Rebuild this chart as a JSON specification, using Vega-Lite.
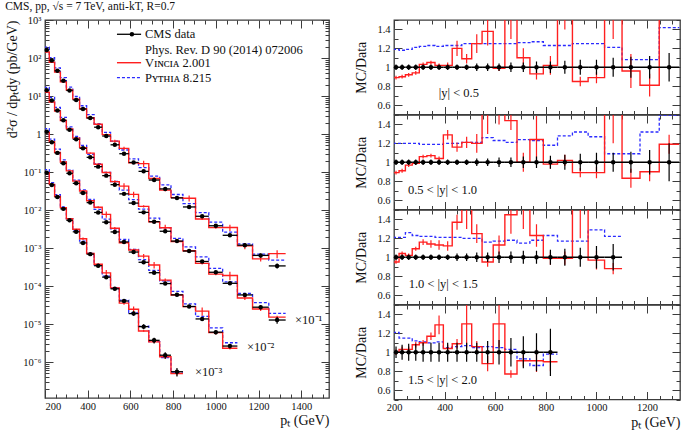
{
  "$schema": "https://vega.github.io/schema/vega-lite/v6.json",
  "padding": {"left": 5, "top": 0, "right": 0, "bottom": 0},
  "background": "white",
  "title": {"text": "CMS, pp, √s = 7 TeV, anti-kT, R=0.7", "anchor": "start", "fontSize": 11.5, "fontWeight": "normal", "font": "Liberation Serif", "color": "#111", "offset": -3},
  "config": {
    "font": "Liberation Serif",
    "view": {"stroke": "#3c3c3c", "strokeWidth": 1.3},
    "axis": {"domain": false, "grid": false, "tickColor": "#3c3c3c", "tickWidth": 1, "labelFont": "Liberation Serif", "labelFontSize": 10.5, "labelColor": "#111", "titleFont": "Liberation Serif", "titleFontWeight": "normal", "titleColor": "#111", "labelOverlap": false, "labelFlush": false},
    "text": {"font": "Liberation Serif"}
  },
  "datasets": {
    "bins": [
      {"s":1,"lo":196,"hi":220,"c":208,"dat":162,"dE":4.86,"vin":144.2,"vE":3.24,"pyt":192.8,"rd":1,"de":0.03,"rv":0.89,"ve":0.02,"rp":1.19},
      {"s":1,"lo":220,"hi":245,"c":232,"dat":86.2,"dE":2.59,"vin":77.6,"vE":1.72,"pyt":101.7,"rd":1,"de":0.03,"rv":0.90,"ve":0.02,"rp":1.18},
      {"s":1,"lo":245,"hi":272,"c":258,"dat":46.3,"dE":1.39,"vin":42.6,"vE":0.93,"pyt":55.1,"rd":1,"de":0.03,"rv":0.92,"ve":0.02,"rp":1.19},
      {"s":1,"lo":272,"hi":300,"c":286,"dat":25.1,"dE":0.75,"vin":23.6,"vE":0.50,"pyt":30.4,"rd":1,"de":0.03,"rv":0.94,"ve":0.02,"rp":1.21},
      {"s":1,"lo":300,"hi":330,"c":315,"dat":14.0,"dE":0.42,"vin":14.4,"vE":0.28,"pyt":17.1,"rd":1,"de":0.03,"rv":1.03,"ve":0.02,"rp":1.22},
      {"s":1,"lo":330,"hi":362,"c":346,"dat":7.88,"dE":0.236,"vin":8.27,"vE":0.158,"pyt":9.69,"rd":1,"de":0.03,"rv":1.05,"ve":0.02,"rp":1.23},
      {"s":1,"lo":362,"hi":395,"c":378,"dat":4.54,"dE":0.136,"vin":4.63,"vE":0.091,"pyt":5.54,"rd":1,"de":0.03,"rv":1.02,"ve":0.02,"rp":1.22},
      {"s":1,"lo":395,"hi":430,"c":412,"dat":2.63,"dE":0.079,"vin":2.68,"vE":0.079,"pyt":3.23,"rd":1,"de":0.03,"rv":1.02,"ve":0.03,"rp":1.23},
      {"s":1,"lo":430,"hi":468,"c":449,"dat":1.51,"dE":0.045,"vin":1.81,"vE":0.121,"pyt":1.86,"rd":1,"de":0.03,"rv":1.2,"ve":0.08,"rp":1.23},
      {"s":1,"lo":468,"hi":507,"c":487,"dat":0.885,"dE":0.027,"vin":0.965,"vE":0.044,"pyt":1.106,"rd":1,"de":0.03,"rv":1.09,"ve":0.05,"rp":1.25},
      {"s":1,"lo":507,"hi":548,"c":527,"dat":0.520,"dE":0.021,"vin":0.650,"vE":0.052,"pyt":0.650,"rd":1,"de":0.04,"rv":1.25,"ve":0.1,"rp":1.25},
      {"s":1,"lo":548,"hi":592,"c":570,"dat":0.303,"dE":0.012,"vin":0.418,"vE":0.045,"pyt":0.379,"rd":1,"de":0.04,"rv":1.38,"ve":0.15,"rp":1.25},
      {"s":1,"lo":592,"hi":638,"c":615,"dat":0.178,"dE":0.0071,"vin":0.176,"vE":0.0053,"pyt":0.2225,"rd":1,"de":0.04,"rv":0.99,"ve":0.03,"rp":1.25},
      {"s":1,"lo":638,"hi":686,"c":662,"dat":0.104,"dE":0.0052,"vin":0.1664,"vE":0.0312,"pyt":0.130,"rd":1,"de":0.05,"rv":1.6,"ve":0.3,"rp":1.25},
      {"s":1,"lo":686,"hi":737,"c":711,"dat":0.0615,"dE":0.0031,"vin":0.0677,"vE":0.0062,"pyt":0.0775,"rd":1,"de":0.05,"rv":1.1,"ve":0.1,"rp":1.26},
      {"s":1,"lo":737,"hi":790,"c":763,"dat":0.0359,"dE":0.00215,"vin":0.0334,"vE":0.00215,"pyt":0.0456,"rd":1,"de":0.06,"rv":0.93,"ve":0.06,"rp":1.27},
      {"s":1,"lo":790,"hi":846,"c":818,"dat":0.0208,"dE":0.00125,"vin":0.0212,"vE":0.00208,"pyt":0.0256,"rd":1,"de":0.06,"rv":1.02,"ve":0.1,"rp":1.23},
      {"s":1,"lo":846,"hi":905,"c":875,"dat":0.01204,"dE":0.00084,"vin":0.02047,"vE":0.00361,"pyt":0.01481,"rd":1,"de":0.07,"rv":1.7,"ve":0.3,"rp":1.23},
      {"s":1,"lo":905,"hi":967,"c":936,"dat":0.00684,"dE":0.00055,"vin":0.00581,"vE":0.00034,"pyt":0.00855,"rd":1,"de":0.08,"rv":0.85,"ve":0.05,"rp":1.25},
      {"s":1,"lo":967,"hi":1032,"c":1000,"dat":0.00385,"dE":0.00031,"vin":0.00343,"vE":0.00023,"pyt":0.00481,"rd":1,"de":0.08,"rv":0.89,"ve":0.06,"rp":1.25},
      {"s":1,"lo":1032,"hi":1101,"c":1066,"dat":0.00216,"dE":0.00022,"vin":0.003456,"vE":0.00065,"pyt":0.002614,"rd":1,"de":0.1,"rv":1.6,"ve":0.3,"rp":1.21},
      {"s":1,"lo":1101,"hi":1172,"c":1136,"dat":0.001187,"dE":0.000131,"vin":0.00114,"vE":0.000214,"pyt":0.001282,"rd":1,"de":0.11,"rv":0.96,"ve":0.18,"rp":1.08},
      {"s":1,"lo":1172,"hi":1248,"c":1210,"dat":0.000639,"dE":7.67e-5,"vin":0.000518,"vE":7.67e-5,"pyt":0.00069,"rd":1,"de":0.12,"rv":0.81,"ve":0.12,"rp":1.08},
      {"s":1,"lo":1248,"hi":1327,"c":1287,"dat":0.000338,"dE":5.07e-5,"vin":0.00071,"vE":0.000169,"pyt":0.00048,"rd":1,"de":0.15,"rv":2.1,"ve":0.5,"rp":1.42},

      {"s":2,"lo":196,"hi":220,"c":208,"dat":14.1,"dE":0.423,"vin":12.55,"vE":0.282,"pyt":16.92,"rd":1,"de":0.03,"rv":0.89,"ve":0.02,"rp":1.2},
      {"s":2,"lo":220,"hi":245,"c":232,"dat":7.65,"dE":0.23,"vin":6.96,"vE":0.153,"pyt":9.18,"rd":1,"de":0.03,"rv":0.91,"ve":0.02,"rp":1.2},
      {"s":2,"lo":245,"hi":272,"c":258,"dat":4.17,"dE":0.125,"vin":4.04,"vE":0.083,"pyt":5.0,"rd":1,"de":0.03,"rv":0.97,"ve":0.02,"rp":1.2},
      {"s":2,"lo":272,"hi":300,"c":286,"dat":2.29,"dE":0.069,"vin":2.27,"vE":0.046,"pyt":2.75,"rd":1,"de":0.03,"rv":0.99,"ve":0.02,"rp":1.2},
      {"s":2,"lo":300,"hi":330,"c":315,"dat":1.29,"dE":0.039,"vin":1.367,"vE":0.026,"pyt":1.535,"rd":1,"de":0.03,"rv":1.06,"ve":0.02,"rp":1.19},
      {"s":2,"lo":330,"hi":362,"c":346,"dat":0.728,"dE":0.0218,"vin":0.779,"vE":0.0146,"pyt":0.866,"rd":1,"de":0.03,"rv":1.07,"ve":0.02,"rp":1.19},
      {"s":2,"lo":362,"hi":395,"c":378,"dat":0.420,"dE":0.0126,"vin":0.437,"vE":0.0084,"pyt":0.500,"rd":1,"de":0.03,"rv":1.04,"ve":0.02,"rp":1.19},
      {"s":2,"lo":395,"hi":430,"c":412,"dat":0.243,"dE":0.0073,"vin":0.3135,"vE":0.0122,"pyt":0.2916,"rd":1,"de":0.03,"rv":1.29,"ve":0.05,"rp":1.2},
      {"s":2,"lo":430,"hi":468,"c":449,"dat":0.1385,"dE":0.0042,"vin":0.1607,"vE":0.0069,"pyt":0.1662,"rd":1,"de":0.03,"rv":1.16,"ve":0.05,"rp":1.2},
      {"s":2,"lo":468,"hi":507,"c":487,"dat":0.0803,"dE":0.0024,"vin":0.0972,"vE":0.0048,"pyt":0.0972,"rd":1,"de":0.03,"rv":1.21,"ve":0.06,"rp":1.21},
      {"s":2,"lo":507,"hi":548,"c":527,"dat":0.0465,"dE":0.00186,"vin":0.0558,"vE":0.00465,"pyt":0.0563,"rd":1,"de":0.04,"rv":1.2,"ve":0.1,"rp":1.21},
      {"s":2,"lo":548,"hi":592,"c":570,"dat":0.0266,"dE":0.00106,"vin":0.04256,"vE":0.00798,"pyt":0.03352,"rd":1,"de":0.04,"rv":1.6,"ve":0.3,"rp":1.26},
      {"s":2,"lo":592,"hi":638,"c":615,"dat":0.0152,"dE":0.00076,"vin":0.02584,"vE":0.00456,"pyt":0.0187,"rd":1,"de":0.05,"rv":1.7,"ve":0.3,"rp":1.23},
      {"s":2,"lo":638,"hi":686,"c":662,"dat":0.00867,"dE":0.00043,"vin":0.01248,"vE":0.00087,"pyt":0.01049,"rd":1,"de":0.05,"rv":1.44,"ve":0.1,"rp":1.21},
      {"s":2,"lo":686,"hi":737,"c":711,"dat":0.00493,"dE":0.0003,"vin":0.00493,"vE":0.00049,"pyt":0.00611,"rd":1,"de":0.06,"rv":1.0,"ve":0.1,"rp":1.24},
      {"s":2,"lo":737,"hi":790,"c":763,"dat":0.00276,"dE":0.000166,"vin":0.00342,"vE":0.00069,"pyt":0.0034,"rd":1,"de":0.06,"rv":1.24,"ve":0.25,"rp":1.23},
      {"s":2,"lo":790,"hi":846,"c":818,"dat":0.00152,"dE":0.000106,"vin":0.00149,"vE":7.6e-5,"pyt":0.00179,"rd":1,"de":0.07,"rv":0.98,"ve":0.05,"rp":1.18},
      {"s":2,"lo":846,"hi":905,"c":875,"dat":0.000832,"dE":6.66e-5,"vin":0.000849,"vE":5.0e-5,"pyt":0.001065,"rd":1,"de":0.08,"rv":1.02,"ve":0.06,"rp":1.28},
      {"s":2,"lo":905,"hi":967,"c":936,"dat":0.000442,"dE":3.98e-5,"vin":0.000393,"vE":2.21e-5,"pyt":0.000583,"rd":1,"de":0.09,"rv":0.89,"ve":0.05,"rp":1.32},
      {"s":2,"lo":967,"hi":1032,"c":1000,"dat":0.000230,"dE":2.3e-5,"vin":0.000205,"vE":1.38e-5,"pyt":0.000292,"rd":1,"de":0.1,"rv":0.89,"ve":0.06,"rp":1.27},
      {"s":2,"lo":1032,"hi":1101,"c":1066,"dat":0.0001179,"dE":1.18e-5,"vin":0.0001886,"vE":4.72e-5,"pyt":0.0001285,"rd":1,"de":0.1,"rv":1.6,"ve":0.4,"rp":1.09},
      {"s":2,"lo":1101,"hi":1172,"c":1136,"dat":5.83e-5,"dE":6.4e-6,"vin":4.84e-5,"vE":5.83e-6,"pyt":6.35e-5,"rd":1,"de":0.11,"rv":0.83,"ve":0.1,"rp":1.09},
      {"s":2,"lo":1172,"hi":1248,"c":1210,"dat":2.77e-5,"dE":3.6e-6,"vin":2.49e-5,"vE":2.77e-6,"pyt":3.66e-5,"rd":1,"de":0.13,"rv":0.9,"ve":0.1,"rp":1.32},
      {"s":2,"lo":1248,"hi":1327,"c":1287,"dat":1.273e-5,"dE":2.55e-6,"vin":1.515e-5,"vE":1.27e-6,"pyt":1.91e-5,"rd":1,"de":0.2,"rv":1.19,"ve":0.1,"rp":1.5},

      {"s":3,"lo":196,"hi":220,"c":208,"dat":1.148,"dE":0.0344,"vin":1.091,"vE":0.023,"pyt":1.389,"rd":1,"de":0.03,"rv":0.95,"ve":0.02,"rp":1.21},
      {"s":3,"lo":220,"hi":245,"c":232,"dat":0.603,"dE":0.0181,"vin":0.627,"vE":0.0121,"pyt":0.730,"rd":1,"de":0.03,"rv":1.04,"ve":0.02,"rp":1.21},
      {"s":3,"lo":245,"hi":272,"c":258,"dat":0.3185,"dE":0.0096,"vin":0.3249,"vE":0.0064,"pyt":0.4013,"rd":1,"de":0.03,"rv":1.02,"ve":0.02,"rp":1.26},
      {"s":3,"lo":272,"hi":300,"c":286,"dat":0.169,"dE":0.0051,"vin":0.1842,"vE":0.0034,"pyt":0.2079,"rd":1,"de":0.03,"rv":1.09,"ve":0.02,"rp":1.23},
      {"s":3,"lo":300,"hi":330,"c":315,"dat":0.0922,"dE":0.0028,"vin":0.107,"vE":0.0028,"pyt":0.1125,"rd":1,"de":0.03,"rv":1.16,"ve":0.03,"rp":1.22},
      {"s":3,"lo":330,"hi":362,"c":346,"dat":0.0504,"dE":0.0015,"vin":0.05746,"vE":0.002,"pyt":0.0615,"rd":1,"de":0.03,"rv":1.14,"ve":0.04,"rp":1.22},
      {"s":3,"lo":362,"hi":395,"c":378,"dat":0.0281,"dE":0.00084,"vin":0.03175,"vE":0.0014,"pyt":0.034,"rd":1,"de":0.03,"rv":1.13,"ve":0.05,"rp":1.21},
      {"s":3,"lo":395,"hi":430,"c":412,"dat":0.01567,"dE":0.00047,"vin":0.01755,"vE":0.00078,"pyt":0.01896,"rd":1,"de":0.03,"rv":1.12,"ve":0.05,"rp":1.21},
      {"s":3,"lo":430,"hi":468,"c":449,"dat":0.0086,"dE":0.00034,"vin":0.01178,"vE":0.00069,"pyt":0.01041,"rd":1,"de":0.04,"rv":1.37,"ve":0.08,"rp":1.21},
      {"s":3,"lo":468,"hi":507,"c":487,"dat":0.00479,"dE":0.00019,"vin":0.00766,"vE":0.00144,"pyt":0.00575,"rd":1,"de":0.04,"rv":1.6,"ve":0.3,"rp":1.2},
      {"s":3,"lo":507,"hi":548,"c":527,"dat":0.00265,"dE":0.000133,"vin":0.00331,"vE":0.000265,"pyt":0.00318,"rd":1,"de":0.05,"rv":1.25,"ve":0.1,"rp":1.2},
      {"s":3,"lo":548,"hi":592,"c":570,"dat":0.001444,"dE":7.22e-5,"vin":0.001372,"vE":7.22e-5,"pyt":0.001675,"rd":1,"de":0.05,"rv":0.95,"ve":0.05,"rp":1.16},
      {"s":3,"lo":592,"hi":638,"c":615,"dat":0.000783,"dE":4.7e-5,"vin":0.000885,"vE":7.83e-5,"pyt":0.000916,"rd":1,"de":0.06,"rv":1.13,"ve":0.1,"rp":1.17},
      {"s":3,"lo":638,"hi":686,"c":662,"dat":0.000421,"dE":2.53e-5,"vin":0.00061,"vE":8.42e-5,"pyt":0.000497,"rd":1,"de":0.06,"rv":1.45,"ve":0.2,"rp":1.18},
      {"s":3,"lo":686,"hi":737,"c":711,"dat":0.000224,"dE":1.57e-5,"vin":0.000358,"vE":6.72e-5,"pyt":0.000258,"rd":1,"de":0.07,"rv":1.6,"ve":0.3,"rp":1.15},
      {"s":3,"lo":737,"hi":790,"c":763,"dat":0.000116,"dE":8.1e-6,"vin":0.0001427,"vE":1.39e-5,"pyt":0.0001369,"rd":1,"de":0.07,"rv":1.23,"ve":0.12,"rp":1.18},
      {"s":3,"lo":790,"hi":846,"c":818,"dat":5.85e-5,"dE":4.7e-6,"vin":5.79e-5,"vE":4.1e-6,"pyt":7.2e-5,"rd":1,"de":0.08,"rv":0.99,"ve":0.07,"rp":1.23},
      {"s":3,"lo":846,"hi":905,"c":875,"dat":2.89e-5,"dE":2.6e-6,"vin":2.86e-5,"vE":2.0e-6,"pyt":3.38e-5,"rd":1,"de":0.09,"rv":0.99,"ve":0.07,"rp":1.17},
      {"s":3,"lo":905,"hi":967,"c":936,"dat":1.36e-5,"dE":1.36e-6,"vin":2.18e-5,"vE":5.4e-6,"pyt":1.59e-5,"rd":1,"de":0.1,"rv":1.6,"ve":0.4,"rp":1.17},
      {"s":3,"lo":967,"hi":1032,"c":1000,"dat":6.11e-6,"dE":7.3e-7,"vin":5.93e-6,"vE":6.1e-7,"pyt":7.88e-6,"rd":1,"de":0.12,"rv":0.97,"ve":0.1,"rp":1.29},
      {"s":3,"lo":1032,"hi":1101,"c":1066,"dat":2.63e-6,"dE":3.7e-7,"vin":2.31e-6,"vE":1.6e-7,"pyt":3.21e-6,"rd":1,"de":0.14,"rv":0.88,"ve":0.06,"rp":1.22},

      {"s":4,"lo":196,"hi":220,"c":208,"dat":0.0955,"dE":0.00573,"vin":0.0955,"vE":0.00287,"pyt":0.1156,"rd":1,"de":0.06,"rv":1.0,"ve":0.03,"rp":1.21},
      {"s":4,"lo":220,"hi":245,"c":232,"dat":0.0458,"dE":0.00366,"vin":0.04717,"vE":0.00137,"pyt":0.05267,"rd":1,"de":0.08,"rv":1.03,"ve":0.03,"rp":1.15},
      {"s":4,"lo":245,"hi":272,"c":258,"dat":0.0221,"dE":0.00199,"vin":0.02276,"vE":0.00066,"pyt":0.02542,"rd":1,"de":0.09,"rv":1.03,"ve":0.03,"rp":1.15},
      {"s":4,"lo":272,"hi":300,"c":286,"dat":0.01072,"dE":0.00096,"vin":0.01158,"vE":0.00032,"pyt":0.01201,"rd":1,"de":0.09,"rv":1.08,"ve":0.03,"rp":1.12},
      {"s":4,"lo":300,"hi":330,"c":315,"dat":0.00535,"dE":0.00054,"vin":0.00589,"vE":0.00016,"pyt":0.00594,"rd":1,"de":0.1,"rv":1.1,"ve":0.03,"rp":1.11},
      {"s":4,"lo":330,"hi":362,"c":346,"dat":0.00267,"dE":0.000267,"vin":0.003124,"vE":0.000107,"pyt":0.002937,"rd":1,"de":0.1,"rv":1.17,"ve":0.04,"rp":1.1},
      {"s":4,"lo":362,"hi":395,"c":378,"dat":0.001361,"dE":0.000136,"vin":0.001756,"vE":0.000136,"pyt":0.001511,"rd":1,"de":0.1,"rv":1.29,"ve":0.1,"rp":1.11},
      {"s":4,"lo":395,"hi":430,"c":412,"dat":0.00069,"dE":6.9e-5,"vin":0.000718,"vE":2.76e-5,"pyt":0.000725,"rd":1,"de":0.1,"rv":1.04,"ve":0.04,"rp":1.05},
      {"s":4,"lo":430,"hi":468,"c":449,"dat":0.000342,"dE":3.42e-5,"vin":0.000373,"vE":1.71e-5,"pyt":0.000363,"rd":1,"de":0.1,"rv":1.09,"ve":0.05,"rp":1.06},
      {"s":4,"lo":468,"hi":507,"c":487,"dat":0.000171,"dE":1.71e-5,"vin":0.000222,"vE":4.28e-5,"pyt":0.000183,"rd":1,"de":0.1,"rv":1.3,"ve":0.25,"rp":1.07},
      {"s":4,"lo":507,"hi":548,"c":527,"dat":8.44e-5,"dE":8.4e-6,"vin":8.95e-5,"vE":5.1e-6,"pyt":8.86e-5,"rd":1,"de":0.1,"rv":1.06,"ve":0.06,"rp":1.05},
      {"s":4,"lo":548,"hi":592,"c":570,"dat":4.03e-5,"dE":4.8e-6,"vin":3.55e-5,"vE":3.2e-6,"pyt":4.27e-5,"rd":1,"de":0.12,"rv":0.88,"ve":0.08,"rp":1.06},
      {"s":4,"lo":592,"hi":638,"c":615,"dat":1.88e-5,"dE":2.4e-6,"vin":2.44e-5,"vE":4.7e-6,"pyt":1.97e-5,"rd":1,"de":0.13,"rv":1.3,"ve":0.25,"rp":1.05},
      {"s":4,"lo":638,"hi":686,"c":662,"dat":8.53e-6,"dE":1.28e-6,"vin":6.57e-6,"vE":3.4e-7,"pyt":8.79e-6,"rd":1,"de":0.15,"rv":0.77,"ve":0.04,"rp":1.03},
      {"s":4,"lo":686,"hi":737,"c":711,"dat":3.72e-6,"dE":6.3e-7,"vin":3.39e-6,"vE":2.2e-7,"pyt":3.46e-6,"rd":1,"de":0.17,"rv":0.91,"ve":0.06,"rp":0.93},
      {"s":4,"lo":737,"hi":790,"c":763,"dat":1.51e-6,"dE":3.0e-7,"vin":1.374e-6,"vE":1.8e-7,"pyt":1.299e-6,"rd":1,"de":0.2,"rv":0.91,"ve":0.12,"rp":0.86},
      {"s":4,"lo":790,"hi":846,"c":818,"dat":5.56e-7,"dE":1.39e-7,"vin":5.0e-7,"vE":5.6e-8,"pyt":5.45e-7,"rd":1,"de":0.25,"rv":0.9,"ve":0.1,"rp":0.98}
    ]
  },
  "spacing": 23,
  "hconcat": [
    {
      "width": 284,
      "height": 378,
      "data": {"name": "bins"},
      "layer": [
        {
          "mark": {"type": "point", "opacity": 0},
          "encoding": {
            "x": {"field": "c", "type": "quantitative", "scale": {"domain": [200, 1530], "nice": false},
              "axis": {"orient": "top", "labels": false, "title": null, "values": [200,250,300,350,400,450,500,550,600,650,700,750,800,850,900,950,1000,1050,1100,1150,1200,1250,1300,1350,1400,1450,1500],
                "tickSize": {"condition": {"test": "datum.value % 200 == 0", "value": -8}, "value": -4}}},
            "y": {"field": "dat", "type": "quantitative", "scale": {"type": "log", "domain": [1.13e-7, 1000], "nice": false},
              "axis": {"orient": "right", "labels": false, "title": null,
                "values": [2e-7,3e-7,4e-7,5e-7,6e-7,7e-7,8e-7,9e-7,1e-6,2e-6,3e-6,4e-6,5e-6,6e-6,7e-6,8e-6,9e-6,1e-5,2e-5,3e-5,4e-5,5e-5,6e-5,7e-5,8e-5,9e-5,1e-4,2e-4,3e-4,4e-4,5e-4,6e-4,7e-4,8e-4,9e-4,0.001,0.002,0.003,0.004,0.005,0.006,0.007,0.008,0.009,0.01,0.02,0.03,0.04,0.05,0.06,0.07,0.08,0.09,0.1,0.2,0.3,0.4,0.5,0.6,0.7,0.8,0.9,1,2,3,4,5,6,7,8,9,10,20,30,40,50,60,70,80,90,100,200,300,400,500,600,700,800,900,1000],
                "tickSize": {"condition": {"test": "abs(log(datum.value)/LN10 - round(log(datum.value)/LN10)) < 0.001", "value": -8}, "value": -4}}}
          }
        },
        {
          "transform": [{"fold": ["lo", "hi"], "as": ["edge", "ex"]}],
          "mark": {"type": "line", "color": "#2b2bff", "strokeWidth": 1.3, "strokeDash": [3, 2], "clip": true},
          "encoding": {
            "x": {"field": "ex", "type": "quantitative",
              "axis": {"orient": "bottom", "values": [200,250,300,350,400,450,500,550,600,650,700,750,800,850,900,950,1000,1050,1100,1150,1200,1250,1300,1350,1400,1450,1500],
                "labelExpr": "datum.value % 200 == 0 ? format(datum.value, 'd') : ''",
                "tickSize": {"condition": {"test": "datum.value % 200 == 0", "value": -8}, "value": -4},
                "labelPadding": 11, "labelFlush": true, "title": "pₜ (GeV)", "titleAnchor": "end", "titleFontSize": 14, "titlePadding": -2}},
            "y": {"field": "pyt", "type": "quantitative",
              "axis": {"orient": "left", "values": [2e-7,3e-7,4e-7,5e-7,6e-7,7e-7,8e-7,9e-7,1e-6,2e-6,3e-6,4e-6,5e-6,6e-6,7e-6,8e-6,9e-6,1e-5,2e-5,3e-5,4e-5,5e-5,6e-5,7e-5,8e-5,9e-5,1e-4,2e-4,3e-4,4e-4,5e-4,6e-4,7e-4,8e-4,9e-4,0.001,0.002,0.003,0.004,0.005,0.006,0.007,0.008,0.009,0.01,0.02,0.03,0.04,0.05,0.06,0.07,0.08,0.09,0.1,0.2,0.3,0.4,0.5,0.6,0.7,0.8,0.9,1,2,3,4,5,6,7,8,9,10,20,30,40,50,60,70,80,90,100,200,300,400,500,600,700,800,900,1000],
                "labelExpr": "abs(log(datum.value)/LN10 - round(log(datum.value)/LN10)) < 0.001 ? ['10⁻⁷','10⁻⁶','10⁻⁵','10⁻⁴','10⁻³','10⁻²','10⁻¹','1','10¹','10²','10³'][round(log(datum.value)/LN10)+7] : ''",
                "tickSize": {"condition": {"test": "abs(log(datum.value)/LN10 - round(log(datum.value)/LN10)) < 0.001", "value": -8}, "value": -4},
                "labelPadding": 12, "title": "d²σ / dpₜdy (pb/GeV)", "titleAnchor": "end", "titleFontSize": 14, "titlePadding": 3}},
            "detail": {"field": "s", "type": "nominal"},
            "order": [{"field": "ex", "type": "quantitative"}, {"field": "edge", "type": "ordinal"}]
          }
        },
        {
          "transform": [{"fold": ["lo", "hi"], "as": ["edge", "ex"]}],
          "mark": {"type": "line", "color": "#ff1f1f", "strokeWidth": 1.4, "clip": true},
          "encoding": {
            "x": {"field": "ex", "type": "quantitative", "axis": null},
            "y": {"field": "vin", "type": "quantitative", "axis": null},
            "detail": {"field": "s", "type": "nominal"},
            "order": [{"field": "ex", "type": "quantitative"}, {"field": "edge", "type": "ordinal"}]
          }
        },
        {
          "mark": {"type": "errorbar", "color": "#ff1f1f", "thickness": 1.2, "clip": true},
          "encoding": {
            "x": {"field": "c", "type": "quantitative", "axis": null},
            "y": {"field": "vin", "type": "quantitative", "axis": null},
            "yError": {"field": "vE"}
          }
        },
        {
          "mark": {"type": "rule", "color": "#000", "strokeWidth": 1.3, "clip": true},
          "encoding": {
            "x": {"field": "lo", "type": "quantitative", "axis": null},
            "x2": {"field": "hi"},
            "y": {"field": "dat", "type": "quantitative", "axis": null}
          }
        },
        {
          "mark": {"type": "errorbar", "color": "#000", "thickness": 1.2, "clip": true},
          "encoding": {
            "x": {"field": "c", "type": "quantitative", "axis": null},
            "y": {"field": "dat", "type": "quantitative", "axis": null},
            "yError": {"field": "dE"}
          }
        },
        {
          "mark": {"type": "point", "filled": true, "color": "#000", "size": 20, "opacity": 1},
          "encoding": {
            "x": {"field": "c", "type": "quantitative", "axis": null},
            "y": {"field": "dat", "type": "quantitative", "axis": null}
          }
        },
        {
          "data": {"values": [{"x1": 537, "x2": 650, "y": 421}]},
          "mark": {"type": "rule", "color": "#000", "strokeWidth": 1.3},
          "encoding": {"x": {"field": "x1", "type": "quantitative", "axis": null}, "x2": {"field": "x2"}, "y": {"field": "y", "type": "quantitative", "axis": null}}
        },
        {
          "data": {"values": [{"x": 607, "y": 421}]},
          "mark": {"type": "point", "filled": true, "color": "#000", "size": 20, "opacity": 1},
          "encoding": {"x": {"field": "x", "type": "quantitative", "axis": null}, "y": {"field": "y", "type": "quantitative", "axis": null}}
        },
        {
          "data": {"values": [{"x1": 537, "x2": 650, "y": 75.2}]},
          "mark": {"type": "rule", "color": "#ff1f1f", "strokeWidth": 1.4},
          "encoding": {"x": {"field": "x1", "type": "quantitative", "axis": null}, "x2": {"field": "x2"}, "y": {"field": "y", "type": "quantitative", "axis": null}}
        },
        {
          "data": {"values": [{"x1": 537, "x2": 650, "y": 30.3}]},
          "mark": {"type": "rule", "color": "#2b2bff", "strokeWidth": 1.3, "strokeDash": [3, 2]},
          "encoding": {"x": {"field": "x1", "type": "quantitative", "axis": null}, "x2": {"field": "x2"}, "y": {"field": "y", "type": "quantitative", "axis": null}}
        },
        {
          "data": {"values": [
            {"x": 668, "y": 421, "t": "CMS data"},
            {"x": 668, "y": 162.5, "t": "Phys. Rev. D 90 (2014) 072006"},
            {"x": 668, "y": 75.2, "t": "Vɪɴᴄɪᴀ 2.001"},
            {"x": 668, "y": 30.3, "t": "Pʏᴛʜɪᴀ 8.215"},
            {"x": 1371, "y": 1.27e-5, "t": "×10⁻¹"},
            {"x": 1146, "y": 2.48e-6, "t": "×10⁻²"},
            {"x": 902, "y": 5.46e-7, "t": "×10⁻³"}
          ]},
          "mark": {"type": "text", "align": "left", "baseline": "middle", "fontSize": 12.5, "color": "#111"},
          "encoding": {"x": {"field": "x", "type": "quantitative", "axis": null}, "y": {"field": "y", "type": "quantitative", "axis": null}, "text": {"field": "t"}}
        }
      ]
    },
    {
      "title": {"text": " ", "fontSize": 4, "offset": 1},
      "spacing": 0,
      "bounds": "flush",
      "vconcat": [
        {
          "width": 286, "height": 94.5,
          "data": {"name": "bins"},
          "transform": [{"filter": "datum.s == 1"}],
          "layer": [
            {"mark": {"type": "point", "opacity": 0},
              "encoding": {
                "x": {"field": "c", "type": "quantitative", "scale": {"domain": [200, 1330], "nice": false}, "axis": {"orient": "top", "labels": false, "title": null, "values": [200,250,300,350,400,450,500,550,600,650,700,750,800,850,900,950,1000,1050,1100,1150,1200,1250,1300], "tickSize": {"condition": {"test": "datum.value % 200 == 0", "value": -8}, "value": -4}}},
                "y": {"field": "rd", "type": "quantitative", "scale": {"domain": [0.5, 1.5], "nice": false}, "axis": {"orient": "right", "labels": false, "title": null, "values": [0.5,0.6,0.7,0.8,0.9,1,1.1,1.2,1.3,1.4,1.5], "tickSize": {"condition": {"test": "abs(datum.value*5 - round(datum.value*5)) < 0.01", "value": -8}, "value": -4}}}}},
            {"transform": [{"fold": ["lo", "hi"], "as": ["edge", "ex"]}],
              "mark": {"type": "line", "color": "#2b2bff", "strokeWidth": 1.3, "strokeDash": [3, 2], "clip": true},
              "encoding": {
                "x": {"field": "ex", "type": "quantitative", "axis": {"orient": "bottom", "values": [200,250,300,350,400,450,500,550,600,650,700,750,800,850,900,950,1000,1050,1100,1150,1200,1250,1300], "labels": false, "title": null, "tickSize": {"condition": {"test": "datum.value % 200 == 0", "value": -8}, "value": -4}}},
                "y": {"field": "rp", "type": "quantitative", "axis": {"orient": "left", "values": [0.5,0.6,0.7,0.8,0.9,1,1.1,1.2,1.3,1.4,1.5], "labelExpr": "abs(datum.value*5 - round(datum.value*5)) < 0.01 ? (datum.value == 1 ? '1' : format(datum.value, '.1f')) : ''", "tickSize": {"condition": {"test": "abs(datum.value*5 - round(datum.value*5)) < 0.01", "value": -8}, "value": -4}, "labelPadding": 12, "title": "MC/Data", "titleFontSize": 14, "titlePadding": 8}},
                "order": [{"field": "ex", "type": "quantitative"}, {"field": "edge", "type": "ordinal"}]}},
            {"transform": [{"fold": ["lo", "hi"], "as": ["edge", "ex"]}],
              "mark": {"type": "line", "color": "#ff1f1f", "strokeWidth": 1.4, "clip": true},
              "encoding": {"x": {"field": "ex", "type": "quantitative", "axis": null}, "y": {"field": "rv", "type": "quantitative", "axis": null}, "order": [{"field": "ex", "type": "quantitative"}, {"field": "edge", "type": "ordinal"}]}},
            {"mark": {"type": "errorbar", "color": "#ff1f1f", "thickness": 1.2, "clip": true},
              "encoding": {"x": {"field": "c", "type": "quantitative", "axis": null}, "y": {"field": "rv", "type": "quantitative", "axis": null}, "yError": {"field": "ve"}}},
            {"mark": {"type": "rule", "color": "#000", "strokeWidth": 1.4, "clip": true},
              "encoding": {"x": {"field": "lo", "type": "quantitative", "axis": null}, "x2": {"field": "hi"}, "y": {"field": "rd", "type": "quantitative", "axis": null}}},
            {"mark": {"type": "errorbar", "color": "#000", "thickness": 1.2, "clip": true},
              "encoding": {"x": {"field": "c", "type": "quantitative", "axis": null}, "y": {"field": "rd", "type": "quantitative", "axis": null}, "yError": {"field": "de"}}},
            {"mark": {"type": "point", "filled": true, "color": "#000", "size": 20, "opacity": 1},
              "encoding": {"x": {"field": "c", "type": "quantitative", "axis": null}, "y": {"field": "rd", "type": "quantitative", "axis": null}}},
            {"data": {"values": [{"s": 1, "x": 377, "y": 0.73, "t": "|y| < 0.5"}]},
              "mark": {"type": "text", "align": "left", "baseline": "middle", "fontSize": 12.5, "color": "#111"},
              "encoding": {"x": {"field": "x", "type": "quantitative", "axis": null}, "y": {"field": "y", "type": "quantitative", "axis": null}, "text": {"field": "t"}}}
          ]
        },
        {
          "width": 286, "height": 94.5,
          "data": {"name": "bins"},
          "transform": [{"filter": "datum.s == 2"}],
          "layer": [
            {"mark": {"type": "point", "opacity": 0},
              "encoding": {
                "x": {"field": "c", "type": "quantitative", "scale": {"domain": [200, 1330], "nice": false}, "axis": {"orient": "top", "labels": false, "title": null, "values": [200,250,300,350,400,450,500,550,600,650,700,750,800,850,900,950,1000,1050,1100,1150,1200,1250,1300], "tickSize": {"condition": {"test": "datum.value % 200 == 0", "value": -8}, "value": -4}}},
                "y": {"field": "rd", "type": "quantitative", "scale": {"domain": [0.5, 1.5], "nice": false}, "axis": {"orient": "right", "labels": false, "title": null, "values": [0.5,0.6,0.7,0.8,0.9,1,1.1,1.2,1.3,1.4,1.5], "tickSize": {"condition": {"test": "abs(datum.value*5 - round(datum.value*5)) < 0.01", "value": -8}, "value": -4}}}}},
            {"transform": [{"fold": ["lo", "hi"], "as": ["edge", "ex"]}],
              "mark": {"type": "line", "color": "#2b2bff", "strokeWidth": 1.3, "strokeDash": [3, 2], "clip": true},
              "encoding": {
                "x": {"field": "ex", "type": "quantitative", "axis": {"orient": "bottom", "values": [200,250,300,350,400,450,500,550,600,650,700,750,800,850,900,950,1000,1050,1100,1150,1200,1250,1300], "labels": false, "title": null, "tickSize": {"condition": {"test": "datum.value % 200 == 0", "value": -8}, "value": -4}}},
                "y": {"field": "rp", "type": "quantitative", "axis": {"orient": "left", "values": [0.5,0.6,0.7,0.8,0.9,1,1.1,1.2,1.3,1.4,1.5], "labelExpr": "abs(datum.value*5 - round(datum.value*5)) < 0.01 ? (datum.value == 1 ? '1' : format(datum.value, '.1f')) : ''", "tickSize": {"condition": {"test": "abs(datum.value*5 - round(datum.value*5)) < 0.01", "value": -8}, "value": -4}, "labelPadding": 12, "title": "MC/Data", "titleFontSize": 14, "titlePadding": 8}},
                "order": [{"field": "ex", "type": "quantitative"}, {"field": "edge", "type": "ordinal"}]}},
            {"transform": [{"fold": ["lo", "hi"], "as": ["edge", "ex"]}],
              "mark": {"type": "line", "color": "#ff1f1f", "strokeWidth": 1.4, "clip": true},
              "encoding": {"x": {"field": "ex", "type": "quantitative", "axis": null}, "y": {"field": "rv", "type": "quantitative", "axis": null}, "order": [{"field": "ex", "type": "quantitative"}, {"field": "edge", "type": "ordinal"}]}},
            {"mark": {"type": "errorbar", "color": "#ff1f1f", "thickness": 1.2, "clip": true},
              "encoding": {"x": {"field": "c", "type": "quantitative", "axis": null}, "y": {"field": "rv", "type": "quantitative", "axis": null}, "yError": {"field": "ve"}}},
            {"mark": {"type": "rule", "color": "#000", "strokeWidth": 1.4, "clip": true},
              "encoding": {"x": {"field": "lo", "type": "quantitative", "axis": null}, "x2": {"field": "hi"}, "y": {"field": "rd", "type": "quantitative", "axis": null}}},
            {"mark": {"type": "errorbar", "color": "#000", "thickness": 1.2, "clip": true},
              "encoding": {"x": {"field": "c", "type": "quantitative", "axis": null}, "y": {"field": "rd", "type": "quantitative", "axis": null}, "yError": {"field": "de"}}},
            {"mark": {"type": "point", "filled": true, "color": "#000", "size": 20, "opacity": 1},
              "encoding": {"x": {"field": "c", "type": "quantitative", "axis": null}, "y": {"field": "rd", "type": "quantitative", "axis": null}}},
            {"data": {"values": [{"s": 2, "x": 255, "y": 0.71, "t": "0.5 < |y| < 1.0"}]},
              "mark": {"type": "text", "align": "left", "baseline": "middle", "fontSize": 12.5, "color": "#111"},
              "encoding": {"x": {"field": "x", "type": "quantitative", "axis": null}, "y": {"field": "y", "type": "quantitative", "axis": null}, "text": {"field": "t"}}}
          ]
        },
        {
          "width": 286, "height": 94.5,
          "data": {"name": "bins"},
          "transform": [{"filter": "datum.s == 3"}],
          "layer": [
            {"mark": {"type": "point", "opacity": 0},
              "encoding": {
                "x": {"field": "c", "type": "quantitative", "scale": {"domain": [200, 1330], "nice": false}, "axis": {"orient": "top", "labels": false, "title": null, "values": [200,250,300,350,400,450,500,550,600,650,700,750,800,850,900,950,1000,1050,1100,1150,1200,1250,1300], "tickSize": {"condition": {"test": "datum.value % 200 == 0", "value": -8}, "value": -4}}},
                "y": {"field": "rd", "type": "quantitative", "scale": {"domain": [0.5, 1.5], "nice": false}, "axis": {"orient": "right", "labels": false, "title": null, "values": [0.5,0.6,0.7,0.8,0.9,1,1.1,1.2,1.3,1.4,1.5], "tickSize": {"condition": {"test": "abs(datum.value*5 - round(datum.value*5)) < 0.01", "value": -8}, "value": -4}}}}},
            {"transform": [{"fold": ["lo", "hi"], "as": ["edge", "ex"]}],
              "mark": {"type": "line", "color": "#2b2bff", "strokeWidth": 1.3, "strokeDash": [3, 2], "clip": true},
              "encoding": {
                "x": {"field": "ex", "type": "quantitative", "axis": {"orient": "bottom", "values": [200,250,300,350,400,450,500,550,600,650,700,750,800,850,900,950,1000,1050,1100,1150,1200,1250,1300], "labels": false, "title": null, "tickSize": {"condition": {"test": "datum.value % 200 == 0", "value": -8}, "value": -4}}},
                "y": {"field": "rp", "type": "quantitative", "axis": {"orient": "left", "values": [0.5,0.6,0.7,0.8,0.9,1,1.1,1.2,1.3,1.4,1.5], "labelExpr": "abs(datum.value*5 - round(datum.value*5)) < 0.01 ? (datum.value == 1 ? '1' : format(datum.value, '.1f')) : ''", "tickSize": {"condition": {"test": "abs(datum.value*5 - round(datum.value*5)) < 0.01", "value": -8}, "value": -4}, "labelPadding": 12, "title": "MC/Data", "titleFontSize": 14, "titlePadding": 8}},
                "order": [{"field": "ex", "type": "quantitative"}, {"field": "edge", "type": "ordinal"}]}},
            {"transform": [{"fold": ["lo", "hi"], "as": ["edge", "ex"]}],
              "mark": {"type": "line", "color": "#ff1f1f", "strokeWidth": 1.4, "clip": true},
              "encoding": {"x": {"field": "ex", "type": "quantitative", "axis": null}, "y": {"field": "rv", "type": "quantitative", "axis": null}, "order": [{"field": "ex", "type": "quantitative"}, {"field": "edge", "type": "ordinal"}]}},
            {"mark": {"type": "errorbar", "color": "#ff1f1f", "thickness": 1.2, "clip": true},
              "encoding": {"x": {"field": "c", "type": "quantitative", "axis": null}, "y": {"field": "rv", "type": "quantitative", "axis": null}, "yError": {"field": "ve"}}},
            {"mark": {"type": "rule", "color": "#000", "strokeWidth": 1.4, "clip": true},
              "encoding": {"x": {"field": "lo", "type": "quantitative", "axis": null}, "x2": {"field": "hi"}, "y": {"field": "rd", "type": "quantitative", "axis": null}}},
            {"mark": {"type": "errorbar", "color": "#000", "thickness": 1.2, "clip": true},
              "encoding": {"x": {"field": "c", "type": "quantitative", "axis": null}, "y": {"field": "rd", "type": "quantitative", "axis": null}, "yError": {"field": "de"}}},
            {"mark": {"type": "point", "filled": true, "color": "#000", "size": 20, "opacity": 1},
              "encoding": {"x": {"field": "c", "type": "quantitative", "axis": null}, "y": {"field": "rd", "type": "quantitative", "axis": null}}},
            {"data": {"values": [{"s": 3, "x": 258, "y": 0.72, "t": "1.0 < |y| < 1.5"}]},
              "mark": {"type": "text", "align": "left", "baseline": "middle", "fontSize": 12.5, "color": "#111"},
              "encoding": {"x": {"field": "x", "type": "quantitative", "axis": null}, "y": {"field": "y", "type": "quantitative", "axis": null}, "text": {"field": "t"}}}
          ]
        },
        {
          "width": 286, "height": 94.5,
          "data": {"name": "bins"},
          "transform": [{"filter": "datum.s == 4"}],
          "layer": [
            {"mark": {"type": "point", "opacity": 0},
              "encoding": {
                "x": {"field": "c", "type": "quantitative", "scale": {"domain": [200, 1330], "nice": false}, "axis": {"orient": "top", "labels": false, "title": null, "values": [200,250,300,350,400,450,500,550,600,650,700,750,800,850,900,950,1000,1050,1100,1150,1200,1250,1300], "tickSize": {"condition": {"test": "datum.value % 200 == 0", "value": -8}, "value": -4}}},
                "y": {"field": "rd", "type": "quantitative", "scale": {"domain": [0.5, 1.5], "nice": false}, "axis": {"orient": "right", "labels": false, "title": null, "values": [0.5,0.6,0.7,0.8,0.9,1,1.1,1.2,1.3,1.4,1.5], "tickSize": {"condition": {"test": "abs(datum.value*5 - round(datum.value*5)) < 0.01", "value": -8}, "value": -4}}}}},
            {"transform": [{"fold": ["lo", "hi"], "as": ["edge", "ex"]}],
              "mark": {"type": "line", "color": "#2b2bff", "strokeWidth": 1.3, "strokeDash": [3, 2], "clip": true},
              "encoding": {
                "x": {"field": "ex", "type": "quantitative", "axis": {"orient": "bottom", "values": [200,250,300,350,400,450,500,550,600,650,700,750,800,850,900,950,1000,1050,1100,1150,1200,1250,1300], "labelExpr": "datum.value % 200 == 0 ? format(datum.value, 'd') : ''", "tickSize": {"condition": {"test": "datum.value % 200 == 0", "value": -8}, "value": -4}, "labelPadding": 11, "title": "pₜ (GeV)", "titleAnchor": "end", "titleFontSize": 14, "titlePadding": -2}},
                "y": {"field": "rp", "type": "quantitative", "axis": {"orient": "left", "values": [0.5,0.6,0.7,0.8,0.9,1,1.1,1.2,1.3,1.4,1.5], "labelExpr": "abs(datum.value*5 - round(datum.value*5)) < 0.01 ? (datum.value == 1 ? '1' : format(datum.value, '.1f')) : ''", "tickSize": {"condition": {"test": "abs(datum.value*5 - round(datum.value*5)) < 0.01", "value": -8}, "value": -4}, "labelPadding": 12, "title": "MC/Data", "titleFontSize": 14, "titlePadding": 8}},
                "order": [{"field": "ex", "type": "quantitative"}, {"field": "edge", "type": "ordinal"}]}},
            {"transform": [{"fold": ["lo", "hi"], "as": ["edge", "ex"]}],
              "mark": {"type": "line", "color": "#ff1f1f", "strokeWidth": 1.4, "clip": true},
              "encoding": {"x": {"field": "ex", "type": "quantitative", "axis": null}, "y": {"field": "rv", "type": "quantitative", "axis": null}, "order": [{"field": "ex", "type": "quantitative"}, {"field": "edge", "type": "ordinal"}]}},
            {"mark": {"type": "errorbar", "color": "#ff1f1f", "thickness": 1.2, "clip": true},
              "encoding": {"x": {"field": "c", "type": "quantitative", "axis": null}, "y": {"field": "rv", "type": "quantitative", "axis": null}, "yError": {"field": "ve"}}},
            {"mark": {"type": "rule", "color": "#000", "strokeWidth": 1.4, "clip": true},
              "encoding": {"x": {"field": "lo", "type": "quantitative", "axis": null}, "x2": {"field": "hi"}, "y": {"field": "rd", "type": "quantitative", "axis": null}}},
            {"mark": {"type": "errorbar", "color": "#000", "thickness": 1.2, "clip": true},
              "encoding": {"x": {"field": "c", "type": "quantitative", "axis": null}, "y": {"field": "rd", "type": "quantitative", "axis": null}, "yError": {"field": "de"}}},
            {"mark": {"type": "point", "filled": true, "color": "#000", "size": 20, "opacity": 1},
              "encoding": {"x": {"field": "c", "type": "quantitative", "axis": null}, "y": {"field": "rd", "type": "quantitative", "axis": null}}},
            {"data": {"values": [{"s": 4, "x": 255, "y": 0.71, "t": "1.5 < |y| < 2.0"}]},
              "mark": {"type": "text", "align": "left", "baseline": "middle", "fontSize": 12.5, "color": "#111"},
              "encoding": {"x": {"field": "x", "type": "quantitative", "axis": null}, "y": {"field": "y", "type": "quantitative", "axis": null}, "text": {"field": "t"}}}
          ]
        }
      ]
    }
  ]
}
